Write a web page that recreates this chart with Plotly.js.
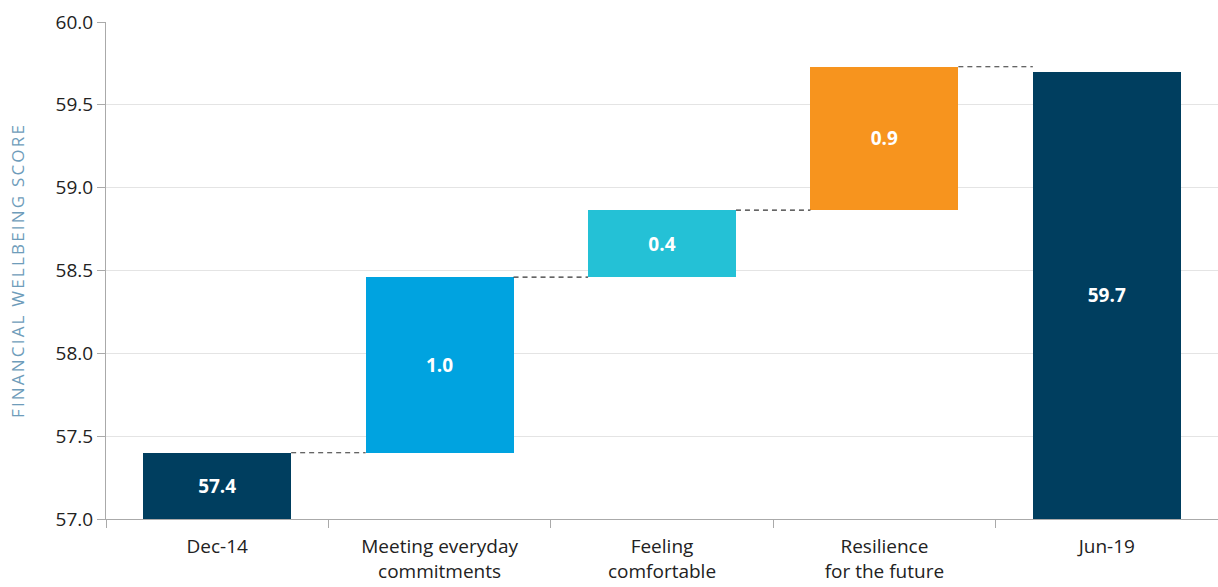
<!DOCTYPE html>
<html>
<head>
<meta charset="utf-8">
<script src="https://cdn.plot.ly/plotly-3.0.1.min.js"></script>
<style>
html,body{margin:0;padding:0;background:#fff;}
#chart{width:1218px;height:587px;}
.ytitle{letter-spacing:2.2px !important;}
</style>
</head>
<body>
<div id="chart"></div>
<script>
const categories = ["Dec-14", "Meeting everyday<br>commitments", "Feeling<br>comfortable", "Resilience<br>for the future", "Jun-19"];
const startScore = 57.4;
const changes = [1.06, 0.405, 0.865];
const endScore = 59.7;
const labels = ["57.4", "1.0", "0.4", "0.9", "59.7"];
const colors = ["#003E5F", "#00A3E0", "#24C1D6", "#F7941E", "#003E5F"];
const yMin = 57.0;

// build bases and heights
const bases = [yMin];
const heights = [startScore - yMin];
let running = startScore;
changes.forEach(c => { bases.push(running); heights.push(c); running += c; });
bases.push(yMin);
heights.push(endScore - yMin);
const tops = bases.map((b, i) => b + heights[i]);

const barWidth = 0.665;
const shapes = [];
for (let i = 0; i < categories.length - 1; i++) {
  shapes.push({
    type: "line", xref: "x", yref: "y",
    x0: i + barWidth / 2, x1: i + 1 - barWidth / 2,
    y0: tops[i], y1: tops[i],
    line: {color: "#333", width: 1.2, dash: "5px,4px"}
  });
}

const trace = {
  type: "bar",
  x: categories,
  y: heights,
  base: bases,
  width: barWidth,
  marker: {color: colors, line: {width: 0}},
  text: labels,
  textposition: "inside",
  insidetextanchor: "middle",
  textangle: 0,
  textfont: {family: "Open Sans, sans-serif", size: 19, color: "#ffffff", weight: 700},
  hoverinfo: "none",
  cliponaxis: false
};

const layout = {
  width: 1218, height: 587,
  margin: {l: 106, r: 0, t: 22, b: 68},
  paper_bgcolor: "#fff", plot_bgcolor: "#fff",
  showlegend: false,
  font: {family: "Open Sans, sans-serif", color: "#222"},
  xaxis: {
    type: "category",
    tickson: "boundaries",
    ticks: "outside", ticklen: 8, tickcolor: "#aaa", tickwidth: 1,
    showline: true, linecolor: "#aaa", linewidth: 1,
    showgrid: false,
    tickfont: {size: 19, color: "#222"},
    ticklabelstandoff: 10,
    range: [-0.5, 4.5]
  },
  yaxis: {
    range: [57.0, 60.0], dtick: 0.5, tick0: 57,
    tickformat: ".1f",
    ticks: "outside", ticklen: 8, tickcolor: "#aaa",
    showline: true, linecolor: "#aaa", linewidth: 1,
    showgrid: true, gridcolor: "#e4e4e4", gridwidth: 1,
    zeroline: false,
    tickfont: {size: 19, color: "#222"},
    title: {text: "FINANCIAL WELLBEING SCORE", font: {size: 17, color: "#6E9CBA", weight: 500}, standoff: 26}
  },
  shapes: shapes,
  bargap: 0
};

Plotly.newPlot("chart", [trace], layout, {displayModeBar: false, staticPlot: true});
</script>
</body>
</html>
